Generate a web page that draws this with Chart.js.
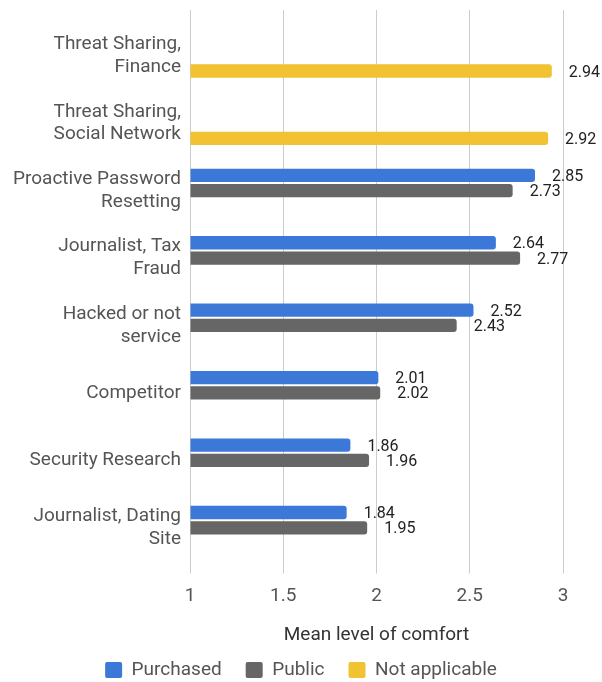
<!DOCTYPE html>
<html>
<head>
<meta charset="utf-8">
<script src="https://cdn.jsdelivr.net/npm/chart.js@4.4.0/dist/chart.umd.min.js"></script>
<style>
html,body{margin:0;padding:0;background:#fff;}
#wrap{width:602px;height:682px;}
</style>
</head>
<body>
<div id="wrap"><canvas id="c" width="602" height="682"></canvas></div>
<script>
const categories = [
  ["Threat Sharing,", "Finance"],
  ["Threat Sharing,", "Social Network"],
  ["Proactive Password", "Resetting"],
  ["Journalist, Tax", "Fraud"],
  ["Hacked or not", "service"],
  "Competitor",
  "Security Research",
  ["Journalist, Dating", "Site"]
];
const purchased = [null, null, 2.85, 2.64, 2.52, 2.01, 1.86, 1.84];
const publicVals = [null, null, 2.73, 2.77, 2.43, 2.02, 1.96, 1.95];
const notApplicable = [2.94, 2.92, null, null, null, null, null, null];
const xTicks = [1, 1.5, 2, 2.5, 3];
const seriesNames = ["Purchased", "Public", "Not applicable"];
const colors = ["#3c78d8", "#666666", "#f1c232"];

const FONT = "Roboto";

const valueLabels = {
  id: 'valueLabels',
  afterDatasetsDraw(chart) {
    const ctx = chart.ctx;
    ctx.save();
    ctx.font = "16px " + FONT;
    ctx.fillStyle = "#222";
    ctx.textAlign = "left";
    ctx.textBaseline = "middle";
    chart.data.datasets.forEach((ds, i) => {
      const meta = chart.getDatasetMeta(i);
      meta.data.forEach((el, j) => {
        const v = ds.data[j];
        if (v === null || v === undefined) return;
        ctx.fillText(v.toFixed(2), el.x + 17, el.y + 1.5);
      });
    });
    ctx.restore();
  }
};

const datasets = [purchased, publicVals, notApplicable].map((d, i) => ({
  label: seriesNames[i],
  data: d,
  backgroundColor: colors[i],
  borderRadius: 3,
  base: 1,
  categoryPercentage: 0.68,
  barPercentage: 0.87,
  xAxisID: 'x',
  yAxisID: 'y'
}));

new Chart(document.getElementById('c'), {
  type: 'bar',
  data: { labels: categories, datasets },
  options: {
    indexAxis: 'y',
    responsive: false,
    animation: false,
    layout: { padding: { top: 10, right: 0, left: 0, bottom: -7.5 } },
    scales: {
      x: {
        position: 'bottom',
        min: 1, max: 3,
        afterBuildTicks: s => { s.ticks = xTicks.map(v => ({ value: v })); },
        grid: { color: "#cccccc", lineWidth: 1, tickLength: 12, tickColor: "#cccccc" },
        border: { display: false },
        ticks: { font: { family: FONT, size: 19, lineHeight: 1 }, color: "#555", padding: 13.5, callback: v => String(v) },
        title: { display: true, text: "Mean level of comfort", font: { family: FONT, size: 19, lineHeight: 1 }, color: "#333", padding: { top: 6, bottom: -8 } }
      },
      x2: {
        position: 'top',
        min: 1, max: 3,
        afterBuildTicks: s => { s.ticks = xTicks.map(v => ({ value: v })); },
        grid: { color: "#cccccc", lineWidth: 1, tickLength: 12, tickColor: "#cccccc", drawOnChartArea: false },
        border: { display: false },
        ticks: { display: false }
      },
      y: {
        position: 'left',
        grid: { display: false, drawTicks: false, tickLength: 0 },
        border: { display: false },
        afterFit: s => { s.width = 190; s.paddingTop = 0; s.paddingBottom = 0; },
        ticks: { font: { family: FONT, size: 19 }, color: "#555", padding: 9 }
      },
      yRight: {
        type: 'category',
        position: 'right',
        grid: { display: false, drawTicks: false, tickLength: 0 },
        border: { display: false },
        ticks: { display: false },
        afterFit: s => { s.width = 39; s.paddingTop = 0; s.paddingBottom = 0; }
      }
    },
    plugins: {
      legend: {
        position: 'bottom',
        labels: {
          font: { family: FONT, size: 19 },
          color: "#555",
          boxWidth: 17,
          boxHeight: 16,
          useBorderRadius: true,
          borderRadius: 2,
          padding: 24
        }
      },
      tooltip: { enabled: false }
    }
  },
  plugins: [valueLabels]
});
</script>
</body>
</html>
